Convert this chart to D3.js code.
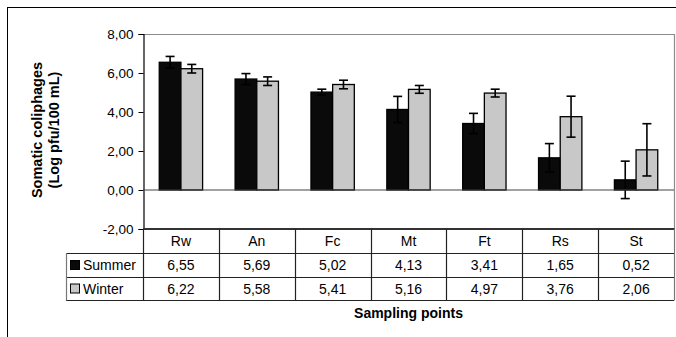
<!DOCTYPE html>
<html>
<head>
<meta charset="utf-8">
<script src="https://cdn.jsdelivr.net/npm/d3@7"></script>
<style>
  body { margin: 0; background: #fff; }
  svg { display: block; font-family: "Liberation Sans", Arial, sans-serif; }
</style>
</head>
<body>
<div class="chart"></div>
<script>
var svgWidth = 676;
var svgHeight = 337;

// data
var categories = ["Rw", "An", "Fc", "Mt", "Ft", "Rs", "St"];
var seriesNames = ["Summer", "Winter"];
var summerValues = [6.55, 5.69, 5.02, 4.13, 3.41, 1.65, 0.52];
var winterValues = [6.22, 5.58, 5.41, 5.16, 4.97, 3.76, 2.06];
var summerErrors = [0.30, 0.28, 0.15, 0.67, 0.52, 0.73, 0.96];
var winterErrors = [0.22, 0.22, 0.22, 0.20, 0.20, 1.05, 1.34];
var yTicks = [-2, 0, 2, 4, 6, 8];
var seriesColors = ["#0a0a0a", "#c8c8c8"];

var values = [summerValues, winterValues];
var errors = [summerErrors, winterErrors];

// layout
var plot = { left: 143, right: 674, top: 34, bottom: 229 };
var rowY = [229, 253, 277, 300];
var legendLeft = 66;

var fmt = function(v) { return v.toFixed(2).replace(".", ","); };

var svg = d3.select(".chart")
  .append("svg")
  .attr("width", svgWidth)
  .attr("height", svgHeight);

// outer frame (runs off right and bottom)
svg.append("rect")
  .attr("x", 7.5)
  .attr("y", 7.5)
  .attr("width", 720)
  .attr("height", 400)
  .attr("fill", "none")
  .attr("stroke", "#000")
  .attr("stroke-width", 1);

// scales
var xScale = d3.scaleBand()
  .domain(categories)
  .range([plot.left, plot.right])
  .padding(0);

var xInner = d3.scaleBand()
  .domain(seriesNames)
  .range([0, xScale.bandwidth()])
  .paddingInner(0)
  .paddingOuter(0.75);

var yScale = d3.scaleLinear()
  .domain([-2, 8])
  .range([plot.bottom, plot.top]);

// plot area border (grey top and right)
svg.append("path")
  .attr("d", `M${plot.left},${plot.top + 0.5}H${plot.right + 0.5}V${plot.bottom}`)
  .attr("fill", "none")
  .attr("stroke", "#8c8c8c")
  .attr("stroke-width", 1.2);

// y axis
var yAxis = d3.axisLeft(yScale)
  .tickValues(yTicks)
  .tickSize(5)
  .tickPadding(5)
  .tickFormat(fmt);

var yAxisG = svg.append("g")
  .attr("transform", `translate(${plot.left + 0.5}, 0)`)
  .call(yAxis);

yAxisG.select(".domain").attr("stroke", "#000").attr("stroke-width", 1.2);
yAxisG.selectAll(".tick line").attr("stroke", "#000");
yAxisG.selectAll(".tick text")
  .attr("font-size", 13.5)
  .attr("fill", "#000")
  .attr("font-family", "Liberation Sans, Arial, sans-serif");

// bars
var seriesGroups = svg.selectAll(".series")
  .data(seriesNames)
  .enter()
  .append("g")
  .attr("class", "series");

seriesGroups.each(function(name, s) {
  var g = d3.select(this);
  g.selectAll("rect")
    .data(values[s])
    .enter()
    .append("rect")
    .attr("x", (d, i) => xScale(categories[i]) + xInner(name))
    .attr("width", xInner.bandwidth())
    .attr("y", d => yScale(Math.max(d, 0)))
    .attr("height", d => Math.abs(yScale(d) - yScale(0)))
    .attr("fill", seriesColors[s])
    .attr("stroke", "#000")
    .attr("stroke-width", 1.3);
});

// zero line
svg.append("line")
  .attr("x1", plot.left)
  .attr("x2", plot.right)
  .attr("y1", yScale(0))
  .attr("y2", yScale(0))
  .attr("stroke", "#444")
  .attr("stroke-width", 1.2);

// error bars
seriesGroups.each(function(name, s) {
  var g = d3.select(this);
  var capHalf = 4.5;
  var cx = (d, i) => xScale(categories[i]) + xInner(name) + xInner.bandwidth() / 2;
  var errG = g.selectAll(".err")
    .data(values[s])
    .enter()
    .append("g")
    .attr("class", "err")
    .attr("stroke", "#000")
    .attr("stroke-width", 1.6);
  errG.append("line")
    .attr("x1", cx).attr("x2", cx)
    .attr("y1", (d, i) => yScale(d + errors[s][i]))
    .attr("y2", (d, i) => yScale(d - errors[s][i]));
  errG.append("line")
    .attr("x1", (d, i) => cx(d, i) - capHalf).attr("x2", (d, i) => cx(d, i) + capHalf)
    .attr("y1", (d, i) => yScale(d + errors[s][i]))
    .attr("y2", (d, i) => yScale(d + errors[s][i]));
  errG.append("line")
    .attr("x1", (d, i) => cx(d, i) - capHalf).attr("x2", (d, i) => cx(d, i) + capHalf)
    .attr("y1", (d, i) => yScale(d - errors[s][i]))
    .attr("y2", (d, i) => yScale(d - errors[s][i]));
});

// data table
var table = svg.append("g").attr("stroke", "#222").attr("stroke-width", 1.2);

// top of table (axis line at -2)
table.append("line")
  .attr("x1", plot.left).attr("x2", plot.right + 0.5)
  .attr("y1", rowY[0]).attr("y2", rowY[0])
  .attr("stroke", "#333").attr("stroke-width", 1.8);

// horizontal row lines
[rowY[1], rowY[2], rowY[3]].forEach(function(y) {
  table.append("line")
    .attr("x1", legendLeft).attr("x2", plot.right)
    .attr("y1", y + 0.5).attr("y2", y + 0.5);
});

// vertical lines
var vx = categories.map(c => xScale(c)).concat([plot.right]);
table.selectAll(".vline")
  .data(vx)
  .enter()
  .append("line")
  .attr("x1", d => Math.round(d) + 0.5).attr("x2", d => Math.round(d) + 0.5)
  .attr("y1", rowY[0]).attr("y2", rowY[3] + 0.5)
  .attr("stroke", (d, i) => i === vx.length - 1 ? "#777" : "#222");

table.append("line")
  .attr("x1", legendLeft + 0.5).attr("x2", legendLeft + 0.5)
  .attr("y1", rowY[1]).attr("y2", rowY[3] + 0.5)
  .attr("stroke", "#777");

var textG = svg.append("g")
  .attr("font-size", 14)
  .attr("fill", "#000")
  .attr("text-anchor", "middle");

// header row
textG.selectAll(".cat")
  .data(categories)
  .enter()
  .append("text")
  .attr("x", d => xScale(d) + xScale.bandwidth() / 2)
  .attr("y", (rowY[0] + rowY[1]) / 2 + 5)
  .text(d => d);

// value rows
seriesNames.forEach(function(name, s) {
  var cy = (rowY[s + 1] + rowY[s + 2]) / 2;
  textG.selectAll(".val" + s)
    .data(values[s])
    .enter()
    .append("text")
    .attr("x", (d, i) => xScale(categories[i]) + xScale.bandwidth() / 2)
    .attr("y", cy + 5)
    .text(d => fmt(d));

  svg.append("rect")
    .attr("x", legendLeft + 4.5)
    .attr("y", cy - 4.5)
    .attr("width", 9)
    .attr("height", 9)
    .attr("fill", seriesColors[s])
    .attr("stroke", "#000")
    .attr("stroke-width", 1);

  svg.append("text")
    .attr("x", legendLeft + 17)
    .attr("y", cy + 5)
    .attr("font-size", 14)
    .text(name);
});

// axis titles
svg.append("text")
  .attr("x", (plot.left + plot.right) / 2)
  .attr("y", 318)
  .attr("text-anchor", "middle")
  .attr("font-size", 14)
  .attr("font-weight", "bold")
  .text("Sampling points");

var yTitle = svg.append("text")
  .attr("transform", "translate(45, 130) rotate(-90)")
  .attr("text-anchor", "middle")
  .attr("font-size", 14.5)
  .attr("font-weight", "bold");

yTitle.append("tspan").attr("x", 0).attr("dy", -3).text("Somatic coliphages");
yTitle.append("tspan").attr("x", 0).attr("dy", 17).text("(Log pfu/100 mL)");
</script>
</body>
</html>
